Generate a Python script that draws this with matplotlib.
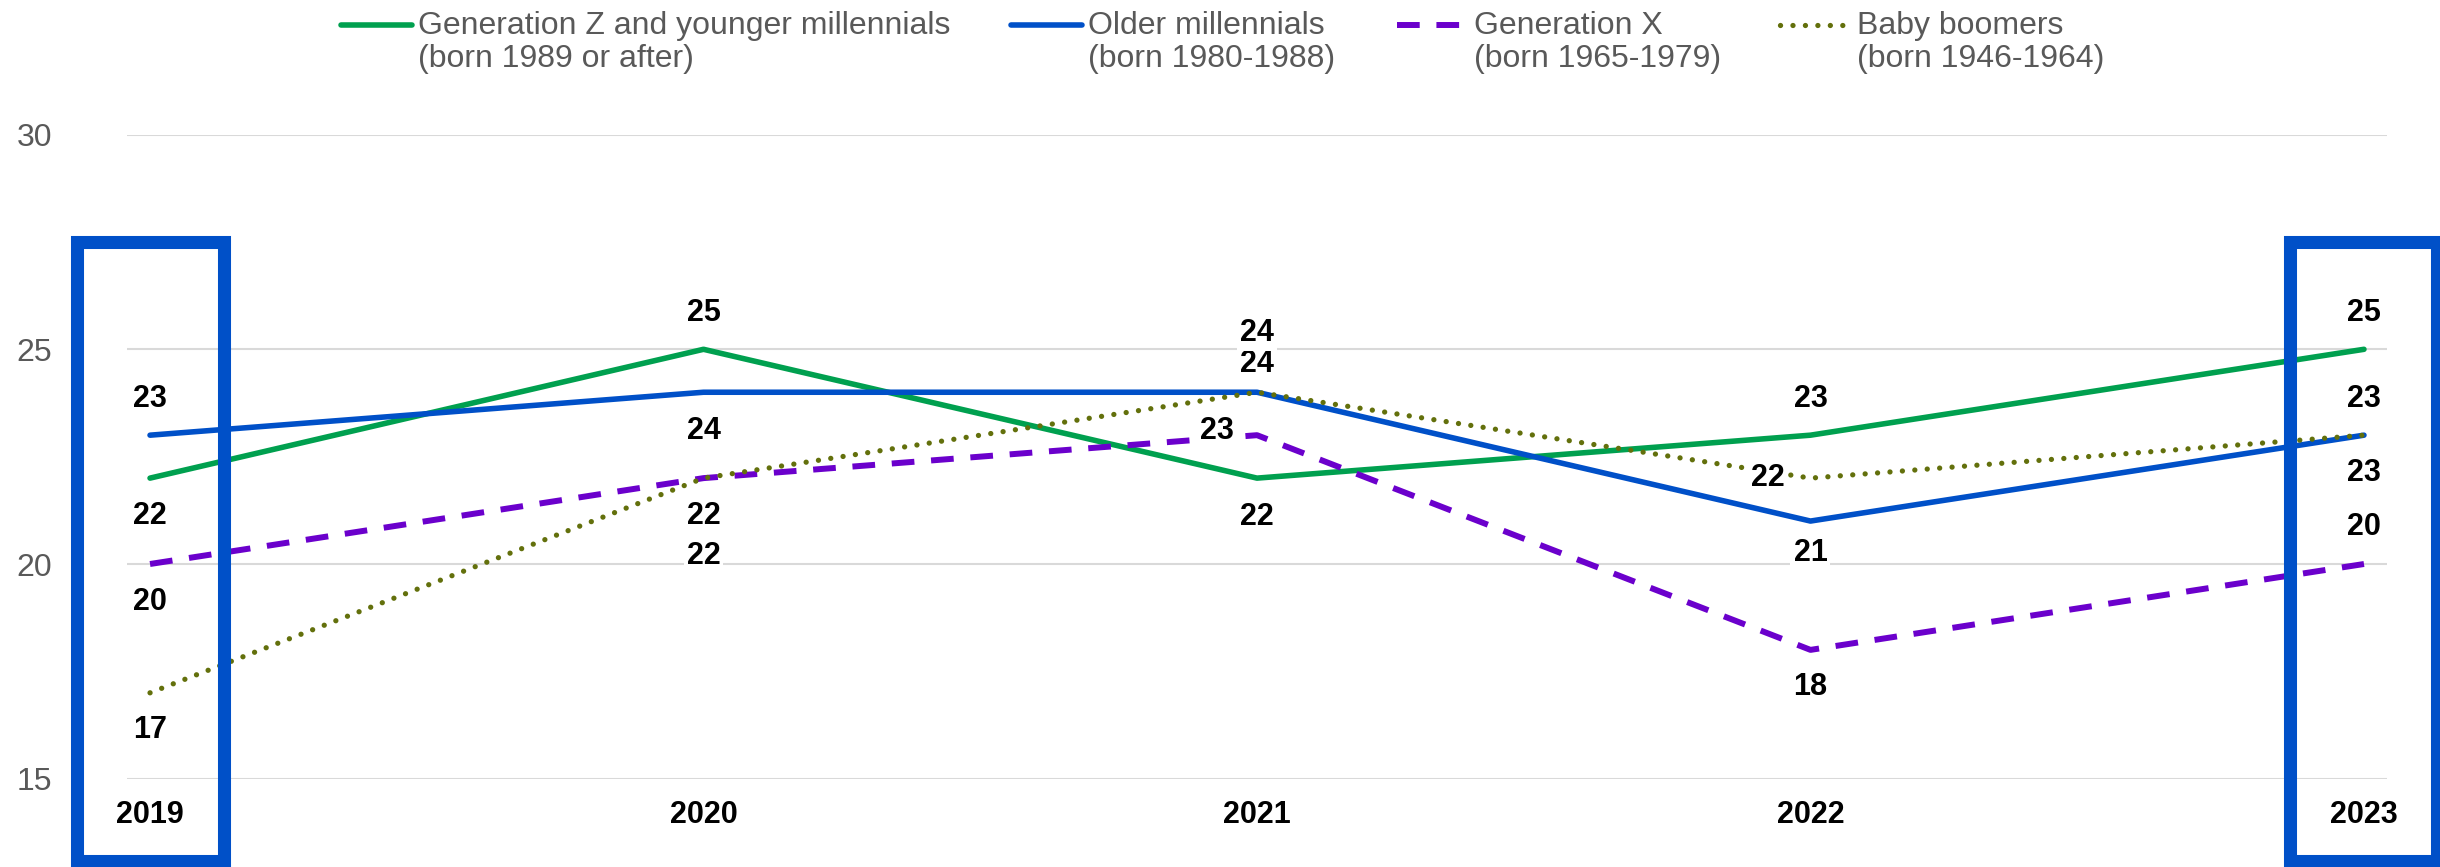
import matplotlib.pyplot as plt
from matplotlib.lines import Line2D
from matplotlib.patches import Rectangle

plt.rcParams['font.family'] = ['Liberation Sans', 'DejaVu Sans']

years = ['2019', '2020', '2021', '2022', '2023']

gen_z = [22, 25, 22, 23, 25]
older_millennials = [23, 24, 24, 21, 23]
gen_x = [20, 22, 23, 18, 20]
boomers = [17, 22, 24, 22, 23]

names = ['Generation Z and younger millennials', 'Older millennials',
         'Generation X', 'Baby boomers']
cohorts = ['(born 1989 or after)', '(born 1980-1988)',
           '(born 1965-1979)', '(born 1946-1964)']

highlight = [0, 4]  # years framed by a box

W, H, DPI = 2440, 867, 100
GREY = '#595959'

styles = [
    dict(color='#00A04F', lw=4.0, ls='-', solid_capstyle='round'),
    dict(color='#0050C8', lw=4.0, ls='-', solid_capstyle='round'),
    dict(color='#6B00CC', lw=4.3, ls=(0, (3.8, 2.8)), dash_capstyle='butt'),
    dict(color='#63700C', lw=3.8, ls=(0, (0.01, 2.35)), dash_capstyle='round'),
]

# label offsets in points (dx, dy) for each point, dy > 0 is upward
label_pos = [
    [(0, -27), (0, 26), (0, -28), (0, 26), (0, 26)],
    [(0, 26), (0, -28), (0, 20), (0, -23), (0, -27)],
    [(0, -27), (0, -27), (-29, 3), (0, -27), (0, 27)],
    [(0, -27), (0, -56), (0, 43), (-31, 0), (0, 26)],
]

series = [gen_z, older_millennials, gen_x, boomers]

fig = plt.figure(figsize=(W / DPI, H / DPI), dpi=DPI)
ax = fig.add_axes([127 / W, (H - 778.7) / H, 2260 / W, (778.7 - 134.6) / H])

x = list(range(len(years)))
for vals, st, offs in zip(series, styles, label_pos):
    ax.plot(x, vals, zorder=3, **st)
    for xi, v, (dx, dy) in zip(x, vals, offs):
        ax.annotate(str(v), (xi, v), xytext=(dx, dy), textcoords='offset points',
                    ha='center', va='center', fontsize=22, fontweight='bold',
                    color='black', zorder=5,
                    bbox=dict(boxstyle='square,pad=0.1', fc='white', ec='none'))

ax.set_xlim(-0.0416, 4.0416)
ax.set_ylim(15, 30)
ax.set_yticks([15, 20, 25, 30])
ax.set_xticks(x)
ax.set_xticklabels(years, fontsize=22, fontweight='bold', color='black')
ax.tick_params(axis='x', length=0, pad=15)
ax.tick_params(axis='y', length=0, pad=54, labelsize=23, labelcolor=GREY)
ax.grid(axis='y', color='#D9D9D9', lw=1.5)
ax.set_axisbelow(True)
for s in ax.spines.values():
    s.set_visible(False)

# frames around the first and last year
half = 0.1328
for i in highlight:
    ax.add_patch(Rectangle((i - half, 13.08), 2 * half, 27.51 - 13.08,
                           fill=False, ec='#0050C8', lw=9.4, clip_on=False,
                           zorder=6))

# legend drawn by hand: handle beside the first text line
handle_x = [341, 1011, 1397, 1780]
for hx, st, name, coh in zip(handle_x, styles, names, cohorts):
    fig.add_artist(Line2D([hx / W, (hx + 71) / W], [1 - 25 / H, 1 - 25 / H],
                          transform=fig.transFigure, **st))
    fig.text((hx + 77) / W, 1 - 34 / H, name, fontsize=23, color=GREY,
             va='baseline', ha='left')
    fig.text((hx + 77) / W, 1 - 67 / H, coh, fontsize=23, color=GREY,
             va='baseline', ha='left')

fig.savefig('out.png', dpi=DPI)
